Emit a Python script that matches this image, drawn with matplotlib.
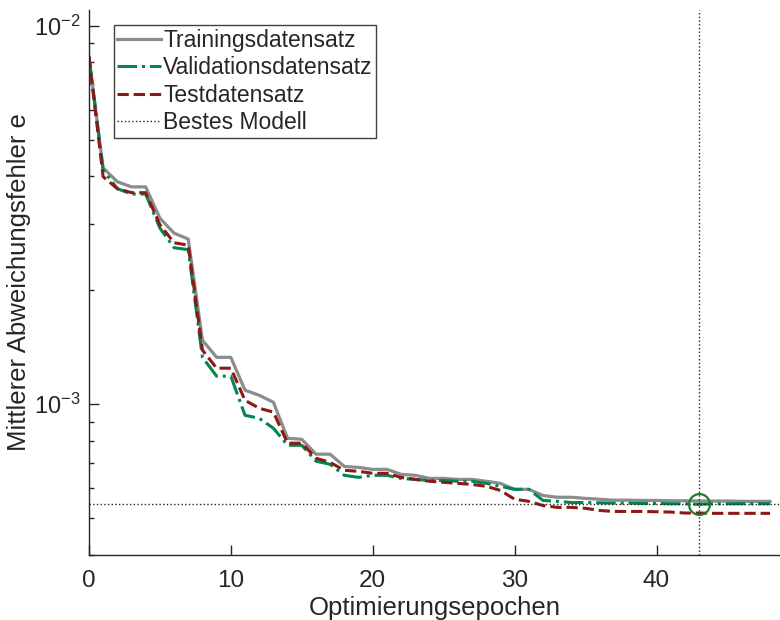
import numpy as np
import matplotlib
matplotlib.use('Agg')
import matplotlib.pyplot as plt

plt.rcParams['font.family'] = ['Liberation Sans', 'DejaVu Sans']
plt.rcParams['mathtext.fontset'] = 'custom'
plt.rcParams['mathtext.rm'] = 'Liberation Sans'
plt.rcParams['mathtext.it'] = 'Liberation Sans'

TXT = '#262626'

# mean error per optimisation epoch
epochs = np.arange(0, 49)
train = [8.28e-3, 4.21e-3, 3.87e-3, 3.75e-3, 3.75e-3, 3.10e-3, 2.83e-3, 2.73e-3,
         1.476e-3, 1.33e-3, 1.33e-3, 1.089e-3, 1.056e-3, 1.012e-3, 8.13e-4, 8.08e-4,
         7.38e-4, 7.38e-4, 6.85e-4, 6.81e-4, 6.73e-4, 6.73e-4, 6.53e-4, 6.49e-4,
         6.37e-4, 6.37e-4, 6.33e-4, 6.33e-4, 6.26e-4, 6.18e-4, 5.96e-4, 5.96e-4,
         5.74e-4, 5.68e-4, 5.68e-4, 5.64e-4, 5.61e-4, 5.58e-4, 5.58e-4, 5.57e-4,
         5.57e-4, 5.56e-4, 5.56e-4, 5.55e-4, 5.55e-4, 5.55e-4, 5.54e-4, 5.54e-4,
         5.54e-4]
valid = [8.28e-3, 4.16e-3, 3.71e-3, 3.59e-3, 3.59e-3, 2.92e-3, 2.59e-3, 2.56e-3,
         1.33e-3, 1.186e-3, 1.186e-3, 9.35e-4, 9.18e-4, 8.64e-4, 7.79e-4, 7.79e-4,
         7.07e-4, 6.94e-4, 6.49e-4, 6.41e-4, 6.49e-4, 6.49e-4, 6.37e-4, 6.33e-4,
         6.29e-4, 6.29e-4, 6.26e-4, 6.26e-4, 6.18e-4, 6.07e-4, 5.96e-4, 5.96e-4,
         5.57e-4, 5.54e-4, 5.50e-4, 5.50e-4, 5.49e-4, 5.48e-4, 5.48e-4, 5.47e-4,
         5.47e-4, 5.46e-4, 5.46e-4, 5.44e-4, 5.46e-4, 5.46e-4, 5.46e-4, 5.46e-4,
         5.46e-4]
test = [8.28e-3, 3.99e-3, 3.71e-3, 3.62e-3, 3.62e-3, 2.98e-3, 2.67e-3, 2.63e-3,
        1.39e-3, 1.245e-3, 1.245e-3, 1.024e-3, 9.76e-4, 9.53e-4, 7.89e-4, 7.89e-4,
        7.20e-4, 7.02e-4, 6.69e-4, 6.65e-4, 6.57e-4, 6.57e-4, 6.41e-4, 6.33e-4,
        6.26e-4, 6.22e-4, 6.18e-4, 6.14e-4, 6.07e-4, 5.92e-4, 5.61e-4, 5.54e-4,
        5.40e-4, 5.34e-4, 5.34e-4, 5.31e-4, 5.24e-4, 5.21e-4, 5.21e-4, 5.21e-4,
        5.20e-4, 5.19e-4, 5.16e-4, 5.16e-4, 5.15e-4, 5.15e-4, 5.15e-4, 5.15e-4,
        5.15e-4]
best_epoch = 43
best_value = valid[best_epoch]

fig = plt.figure(figsize=(7.8, 6.2), dpi=100)
ax = fig.add_axes([0.114, 0.105, 0.886, 0.879])

ax.semilogy(epochs, train, '-', color='#8C8C8C', lw=2.3, label='Trainingsdatensatz')
ax.semilogy(epochs, valid, '-.', color='#00864E', lw=2.2, label='Validationsdatensatz')
ax.semilogy(epochs, test, '--', color='#8B1A14', lw=2.2, label='Testdatensatz')
ax.axvline(best_epoch, color='#222222', ls=':', lw=1.0, label='Bestes Modell')
ax.axhline(best_value, color='#222222', ls=':', lw=1.0)
ax.plot(best_epoch, best_value, 'o', ms=15, mfc='none', mec='#1E7D32', mew=1.6)

ax.set_xlim(0, 48.7)
ax.set_ylim(4e-4, 1.1e-2)
ax.set_xticks([0, 10, 20, 30, 40])

for s in ['top', 'right']:
    ax.spines[s].set_visible(False)
for s in ['left', 'bottom']:
    ax.spines[s].set_color(TXT)
    ax.spines[s].set_linewidth(1.0)

ax.tick_params(which='major', direction='in', length=7, width=1, colors=TXT)
ax.tick_params(axis='x', which='major', pad=11, labelsize=17.5)
ax.tick_params(axis='y', which='major', pad=6, labelsize=17)
ax.tick_params(which='minor', direction='in', length=3.5, width=1, colors=TXT)
ax.tick_params(axis='x', which='minor', bottom=False)

ax.set_xlabel('Optimierungsepochen', fontsize=18.5, color=TXT, labelpad=3)
ax.set_ylabel('Mittlerer Abweichungsfehler e', fontsize=18.5, color=TXT)
ax.yaxis.set_label_coords(-0.084, 0.5)

leg = ax.legend(loc='upper left', bbox_to_anchor=(0.036, 0.972), borderaxespad=0,
                fontsize=16.5, fancybox=False, handlelength=1.9, handletextpad=0.1,
                labelspacing=0.2, borderpad=0.15, framealpha=1)
leg.get_frame().set_edgecolor('#404040')
leg.get_frame().set_linewidth(1.0)
for t in leg.get_texts():
    t.set_color(TXT)

fig.savefig('out.png', dpi=100)
